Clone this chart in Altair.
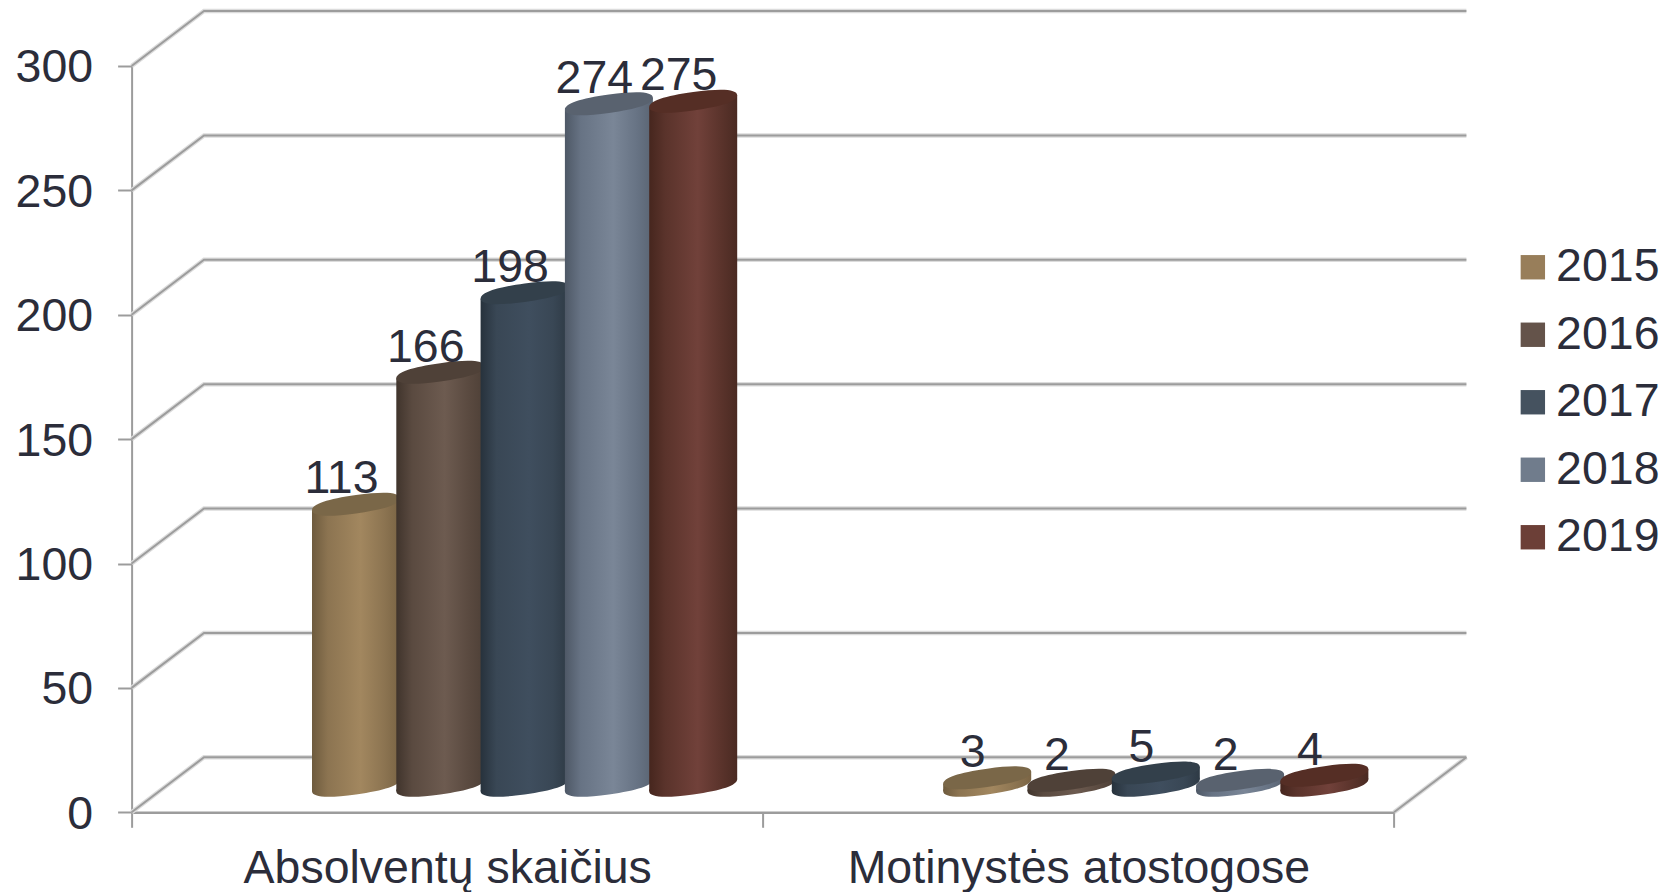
import altair as alt
import pandas as pd

# ---- data ----
categories = ["Absolventų skaičius", "Motinystės atostogose"]
years = ["2015", "2016", "2017", "2018", "2019"]
values_2015 = [113, 3]
values_2016 = [166, 2]
values_2017 = [198, 5]
values_2018 = [274, 2]
values_2019 = [275, 4]
y_ticks = [0, 50, 100, 150, 200, 250, 300]

series_values = [values_2015, values_2016, values_2017, values_2018, values_2019]

# ---- style ----
legend_colors = ["#987E5A", "#64534A", "#45525F", "#707C8C", "#6C3F37"]
top_colors = ["#7A6748", "#4F4138", "#33404B", "#59626F", "#552E25"]
edge_dark = ["#6E5B3E", "#40342C", "#27323C", "#4E5866", "#46261E"]
mid_dark = ["#8C7451", "#5A4A40", "#394755", "#677384", "#5A332B"]
body_light = ["#A2875F", "#6D5B50", "#3F4E5E", "#7A8697", "#71413A"]
edge_right = ["#7A6444", "#4E4037", "#2E3A45", "#5A6472", "#4A2A22"]
TEXT = "#2B2D3A"
LINE = "#9C9C9C"
HALO = "#DCDCDC"
FONT = "Liberation Sans"
FS = 46.5

# ---- geometry of the oblique projection, in scale units ----
W, H = 1262.4, 746.3
PX_X = W / 2.0          # pixels per category
PX_Y = H / 300.0        # pixels per value unit
DEPTH_X = 72.4 / PX_X
DEPTH_Y = 55.0 / PX_Y
BASE = 27.0 / PX_Y
TILT = 6.0 / PX_Y
START = (312 - 131.6) / PX_X
STEP = 84.3 / PX_X
BAR_W = 88.0 / PX_X


def ellipse_path(half_w=44.0, tilt=6.0, minor=9.2):
    s, b, k = tilt / half_w, minor / half_w, 0.65
    def p(cx, sy):
        return f"{cx:.4f},{(-s * cx + b * sy):.4f}"
    return (
        f"M{p(1, 0)}"
        f"C{p(1, k)} {p(k, 1)} {p(0, 1)}"
        f"C{p(-k, 1)} {p(-1, k)} {p(-1, 0)}"
        f"C{p(-1, -k)} {p(-k, -1)} {p(0, -1)}"
        f"C{p(k, -1)} {p(1, -k)} {p(1, 0)}Z"
    )


ELLIPSE = ellipse_path()
SYM_SIZE = 88.0 ** 2

x_num = alt.Scale(domain=[0, 2], nice=False, zero=False)
y_scale = alt.Scale(domain=[0, 300], nice=False, zero=False)
y_axis = alt.Axis(
    values=y_ticks,
    labelFont=FONT,
    labelFontSize=FS,
    labelColor=TEXT,
    labelPadding=25,
    labelOffset=2,
    tickSize=14,
    tickColor=LINE,
    tickWidth=2,
    domainColor=LINE,
    domainWidth=2,
    grid=False,
)


def X(field):
    return alt.X(f"{field}:Q", scale=x_num, axis=None)


def Y(field):
    return alt.Y(f"{field}:Q", scale=y_scale, axis=y_axis, title=None)


layers = []

# band axis layer carrying the real category axis
cat_df = pd.DataFrame({"category": categories, "v": [0, 0]})
layers.append(
    alt.Chart(cat_df)
    .mark_point(opacity=0)
    .encode(
        x=alt.X(
            "category:N",
            sort=categories,
            title=None,
            scale=alt.Scale(paddingInner=0, paddingOuter=0),
            axis=alt.Axis(
                tickBand="extent",
                labelAngle=0,
                labelFont=FONT,
                labelFontSize=FS,
                labelColor=TEXT,
                labelPadding=18,
                labelLimit=700,
                tickSize=15,
                tickColor=LINE,
                tickWidth=2,
                domainColor=LINE,
                domainWidth=2.5,
                grid=False,
            ),
        ),
        y=Y("v"),
    )
)

# wall and floor lines
rows = []
for t in y_ticks:
    rows += [
        {"line": f"t{t}", "o": 0, "x": 0, "y": t},
        {"line": f"t{t}", "o": 1, "x": DEPTH_X, "y": t + DEPTH_Y},
        {"line": f"t{t}", "o": 2, "x": 2 + DEPTH_X, "y": t + DEPTH_Y},
    ]
rows += [
    {"line": "floor", "o": 0, "x": 2, "y": 0},
    {"line": "floor", "o": 1, "x": 2 + DEPTH_X, "y": DEPTH_Y},
]
wall_df = pd.DataFrame(rows)
layers.append(
    alt.Chart(wall_df)
    .mark_line(color=HALO, strokeWidth=4.5, clip=False)
    .encode(x=X("x"), y=Y("y"), detail="line:N", order="o:Q")
)
layers.append(
    alt.Chart(wall_df)
    .mark_line(color=LINE, strokeWidth=2, clip=False)
    .encode(x=X("x"), y=Y("y"), detail="line:N", order="o:Q")
)

# legend carrier
leg_df = pd.DataFrame({"year": years, "x": [0] * 5, "y": [0] * 5})
layers.append(
    alt.Chart(leg_df)
    .mark_point(filled=True, opacity=0)
    .encode(
        x=X("x"),
        y=Y("y"),
        color=alt.Color(
            "year:N",
            scale=alt.Scale(domain=years, range=legend_colors),
            legend=alt.Legend(
                title=None,
                orient="none",
                legendX=1378,
                legendY=178,
                symbolType="square",
                symbolSize=595,
                symbolStrokeWidth=0,
                symbolOpacity=1,
                labelFont=FONT,
                labelFontSize=FS,
                labelColor=TEXT,
                labelOffset=0,
                rowPadding=20.5,
                padding=0,
            ),
        ),
    )
)

# cylinders
for j, year in enumerate(years):
    grad = {
        "gradient": "linear",
        "x1": 0, "y1": 0, "x2": 1, "y2": 0,
        "stops": [
            {"offset": 0.0, "color": edge_dark[j]},
            {"offset": 0.18, "color": mid_dark[j]},
            {"offset": 0.55, "color": body_light[j]},
            {"offset": 0.82, "color": mid_dark[j]},
            {"offset": 1.0, "color": edge_right[j]},
        ],
    }
    body, centers = [], []
    for i, cat in enumerate(categories):
        v = series_values[j][i]
        left = i + START + j * STEP
        right = left + BAR_W
        body += [
            {"bar": cat, "x": left, "top": v + BASE - TILT, "bot": BASE - TILT},
            {"bar": cat, "x": right, "top": v + BASE + TILT, "bot": BASE + TILT},
        ]
        centers.append({"bar": cat, "x": (left + right) / 2, "top": v + BASE, "bot": BASE})
    body_df = pd.DataFrame(body)
    cen_df = pd.DataFrame(centers)
    layers.append(
        alt.Chart(cen_df)
        .mark_point(shape=ELLIPSE, size=SYM_SIZE, filled=True, fill=grad, opacity=1, strokeWidth=0)
        .encode(x=X("x"), y=Y("bot"))
    )
    layers.append(
        alt.Chart(body_df)
        .mark_area(fill=grad, opacity=1, clip=False)
        .encode(x=X("x"), y=Y("top"), y2=alt.Y2("bot:Q"), detail="bar:N")
    )
    layers.append(
        alt.Chart(cen_df)
        .mark_point(shape=ELLIPSE, size=SYM_SIZE, filled=True, fill=top_colors[j], opacity=1, strokeWidth=0)
        .encode(x=X("x"), y=Y("top"))
    )

# value labels
label_rows = []
for j, year in enumerate(years):
    for i, cat in enumerate(categories):
        v = series_values[j][i]
        label_rows.append(
            {"x": i + START + j * STEP + BAR_W / 2, "y": v + BASE, "label": str(v)}
        )
layers.append(
    alt.Chart(pd.DataFrame(label_rows))
    .mark_text(
        font=FONT, fontSize=FS, color=TEXT, align="center", baseline="alphabetic",
        dx=-14.5, dy=-10.8,
    )
    .encode(x=X("x"), y=Y("y"), text="label:N")
)

chart = (
    alt.layer(*layers)
    .resolve_scale(x="independent")
    .properties(
        width=W,
        height=H,
        background="white",
        autosize=alt.AutoSizeParams(type="none"),
        padding={"left": 123.6, "top": 58, "right": 268, "bottom": 80},
    )
    .configure_view(stroke=None)
)

chart.save("out.html", embed_options={"renderer": "svg", "actions": False})
